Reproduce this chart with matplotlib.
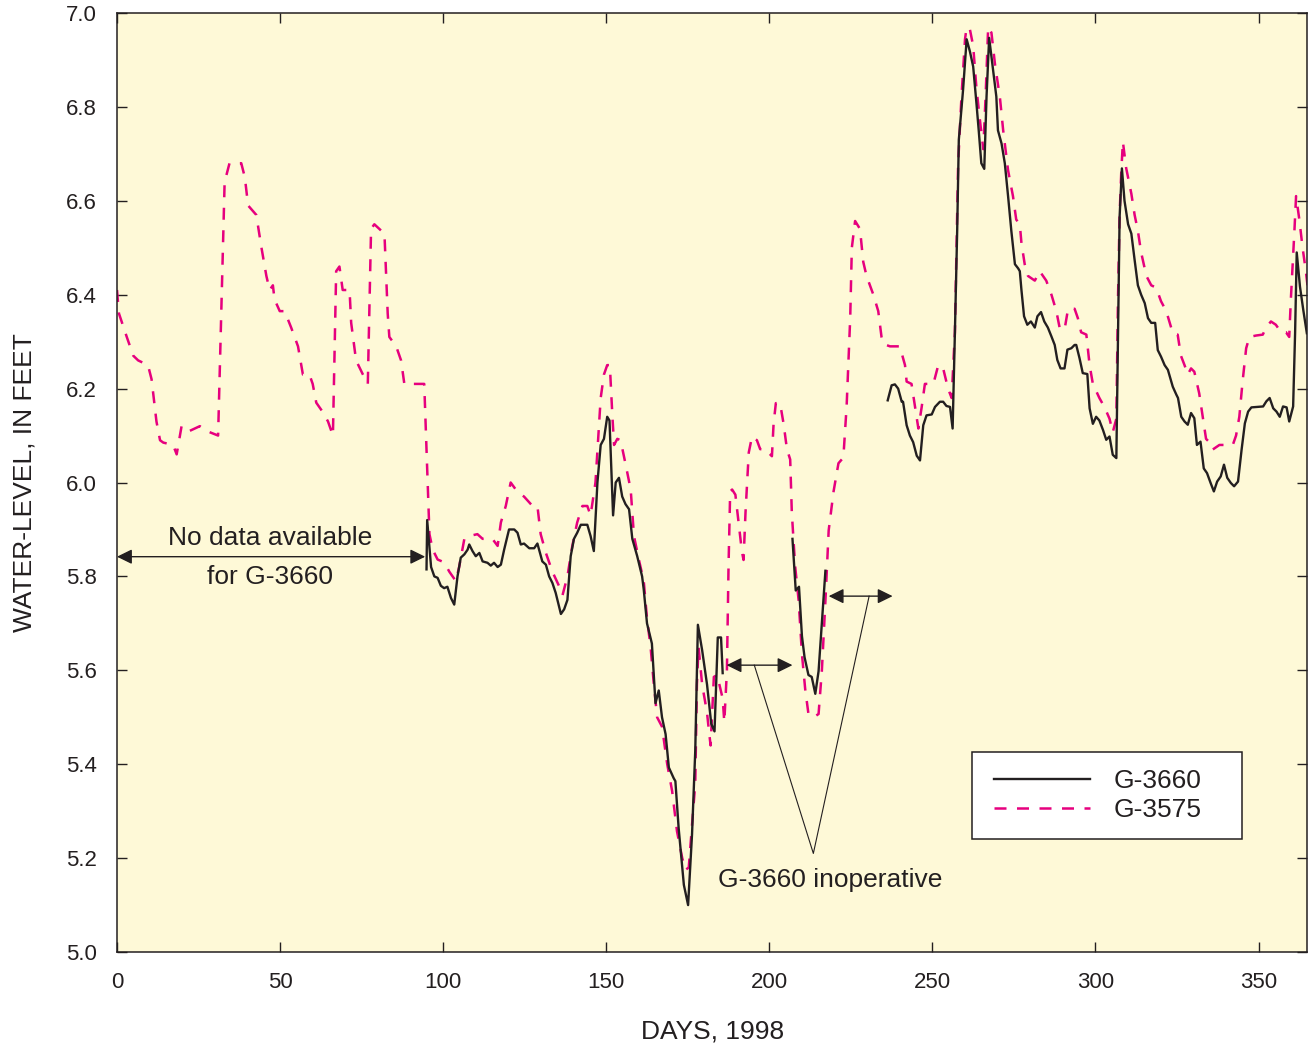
import numpy as np
import matplotlib
matplotlib.use('Agg')
from matplotlib import pyplot as plt
from matplotlib.patches import Rectangle

plt.rcParams['font.family'] = ['Liberation Sans', 'DejaVu Sans']

# G-3575 (dashed magenta)
days_3575 = [0, 0.6, 3, 5, 6.5, 9.5, 10.6, 12.1, 13.2, 14.2, 17.2, 18.3, 19.8, 20.8, 22.3,
             25.4, 27.4, 31, 33, 34.5, 38.1, 39.2, 40.2, 42.7, 44.3, 45.8, 46.8, 47.8, 48.3,
             49.9, 51.4, 53.4, 55.5, 57, 59, 60, 61.1, 63.1, 64.7, 66.2, 67.2, 68.2, 69.2,
             71.3, 71.8, 73.3, 75.4, 76.9, 77.9, 78.9, 82, 83, 83.5, 85.6, 87.1, 88.1, 94.2,
             94.7, 95.8, 96.8, 98.3, 100.3, 101.9, 103.9, 104.9, 106.5, 108, 110.5, 112.1,
             115.1, 116.7, 117.7, 119.2, 120.7, 122.8, 124.8, 127.4, 128.9, 129.9, 131.5,
             133.5, 135.5, 136.6, 138.1, 139.6, 141.1, 142.7, 144.2, 145.2, 146.7, 148.3,
             149.3, 150.3, 151.1, 151.9, 152.4, 153.4, 154.4, 155.9, 157.5, 158.5, 160,
             161.5, 162.5, 163.6, 164.6, 165.6, 167.1, 168.7, 170.2, 171.7, 173.3, 174.3,
             175.3, 176.3, 177.3, 177.8, 178.3, 179.4, 180.9, 181.5, 182, 183, 184, 185.7,
             186.2, 187, 187.5, 188, 188.6, 189.6, 190.6, 191.6, 192.1, 192.7, 193.7, 194.7,
             196.2, 197.2, 198.7, 200.8, 201.3, 202, 203.3, 204.4, 205.4, 206.4, 206.9,
             207.9, 209, 210, 211, 212, 213.6, 215.1, 216.1, 217.2, 218.2, 219.7, 221.2,
             222.7, 223.7, 224.8, 225.3, 226.3, 227.8, 228.8, 229.8, 231.9, 233.4, 234.4,
             235, 237, 240, 241.6, 242.1, 243.6, 244.7, 245.7, 246.7, 247.7, 250.3, 251.8,
             253.3, 254.8, 255.9, 256.9, 257.9, 258.9, 260, 260.5, 261.5, 262.5, 263.5,
             264.6, 265.6, 266.3, 267.1, 268.1, 269.2, 270.7, 271.7, 273.2, 274.7, 275.7,
             276.8, 277.3, 278.3, 279.3, 281.4, 282.9, 284.9, 286.5, 288, 289, 290.5, 291.6,
             293.6, 294.6, 295.6, 297.2, 298.2, 299.2, 301.2, 302.8, 304.3, 305.3, 306.4,
             306.9, 307.4, 307.9, 308.4, 309.4, 311, 312, 313, 314, 315.6, 317.1, 318.6,
             320.1, 321.7, 323.2, 324.2, 325.2, 326.2, 327.3, 328.3, 329.3, 330.3, 331.8,
             332.9, 333.9, 334.9, 335.9, 338, 339.5, 342.1, 343.1, 344.1, 345.1, 346.2,
             347.2, 349.2, 351.3, 352.3, 353.8, 355.3, 356.9, 358.4, 359.4, 359.9, 361,
             361.5, 362.5, 363.5, 364.5, 365]
level_3575 = [6.41, 6.36, 6.31, 6.27, 6.26, 6.25, 6.22, 6.13, 6.09, 6.085, 6.08, 6.06, 6.12,
              6.12, 6.11, 6.12, 6.11, 6.10, 6.64, 6.68, 6.68, 6.65, 6.59, 6.57, 6.50, 6.44,
              6.41, 6.42, 6.39, 6.365, 6.365, 6.33, 6.29, 6.23, 6.23, 6.21, 6.17, 6.15,
              6.13, 6.10, 6.45, 6.46, 6.41, 6.41, 6.34, 6.26, 6.23, 6.21, 6.54, 6.55, 6.53,
              6.36, 6.31, 6.29, 6.26, 6.21, 6.21, 6.11, 5.89, 5.857, 5.836, 5.83, 5.81,
              5.79, 5.82, 5.88, 5.886, 5.89, 5.88, 5.88, 5.865, 5.915, 5.95, 6.00, 5.98,
              5.97, 5.95, 5.95, 5.89, 5.85, 5.81, 5.78, 5.76, 5.80, 5.865, 5.915, 5.95,
              5.95, 5.93, 6.00, 6.18, 6.23, 6.25, 6.25, 6.14, 6.08, 6.093, 6.09, 6.04,
              5.985, 5.886, 5.836, 5.79, 5.71, 5.65, 5.57, 5.50, 5.48, 5.40, 5.343, 5.257,
              5.20, 5.175, 5.18, 5.27, 5.36, 5.57, 5.65, 5.57, 5.51, 5.47, 5.44, 5.586,
              5.59, 5.54, 5.49, 5.60, 5.823, 5.981, 5.985, 5.974, 5.913, 5.853, 5.835,
              5.936, 6.064, 6.098, 6.09, 6.071, 6.071, 6.056, 6.124, 6.169, 6.169, 6.124,
              6.071, 6.049, 5.936, 5.823, 5.748, 5.635, 5.56, 5.507, 5.50, 5.507, 5.598,
              5.748, 5.898, 5.981, 6.041, 6.053, 6.162, 6.35, 6.50, 6.557, 6.54, 6.47, 6.44,
              6.40, 6.365, 6.31, 6.295, 6.29, 6.29, 6.25, 6.215, 6.21, 6.16, 6.115, 6.16,
              6.21, 6.21, 6.25, 6.243, 6.20, 6.18, 6.32, 6.68, 6.82, 6.944, 6.97, 6.965,
              6.93, 6.84, 6.77, 6.71, 6.82, 6.97, 6.958, 6.89, 6.82, 6.75, 6.665, 6.61,
              6.56, 6.55, 6.51, 6.465, 6.44, 6.43, 6.45, 6.43, 6.40, 6.365, 6.33, 6.325,
              6.37, 6.37, 6.35, 6.32, 6.315, 6.25, 6.21, 6.18, 6.16, 6.136, 6.107, 6.136,
              6.39, 6.57, 6.66, 6.726, 6.67, 6.615, 6.57, 6.536, 6.49, 6.44, 6.42, 6.415,
              6.386, 6.365, 6.33, 6.315, 6.315, 6.27, 6.25, 6.23, 6.243, 6.236, 6.19, 6.14,
              6.093, 6.086, 6.07, 6.08, 6.08, 6.08, 6.10, 6.14, 6.215, 6.286, 6.31, 6.313,
              6.315, 6.33, 6.343, 6.336, 6.32, 6.32, 6.31, 6.39, 6.537, 6.61, 6.56, 6.50,
              6.45, 6.42]

# G-3660 (solid black), nan marks the periods with no record
days_3660 = [94.9, 95.1, 96.3, 97.3, 98.3, 99.3, 100.3, 101.3, 102.4, 103.4, 104.4, 105.4,
             106.5, 107.5, 108, 109, 110, 111.1, 112.1, 113.6, 114.6, 115.6, 116.7, 117.7,
             118.7, 120.2, 121.8, 122.8, 123.8, 124.8, 126.4, 127.9, 128.9, 130.4, 131.5,
             132.5, 133.5, 134.5, 136.1, 137.1, 138.1, 139.1, 140.1, 141.1, 142.2, 144.2,
             145.2, 146.2, 147.3, 148.3, 149.3, 150.3, 151, 152.1, 152.9, 153.9, 154.9,
             155.9, 157, 158, 159.5, 161, 161.5, 162.5, 164, 165.1, 166.1, 167.1, 168.2,
             169.2, 170.7, 171.2, 172.2, 173.8, 175.1, 176.3, 177.3, 178.1, 179.4, 180.9,
             182.2, 183.2, 184.2, 185.2, 185.7,
             196,
             207.1, 208.1, 209.1, 210, 210.8, 212, 213, 214.1, 215.1, 216.1, 217.2,
             226,
             236.3, 237.5, 238.5, 239.5, 240.6, 241, 242.1, 243.1, 244.1, 245.2, 246.2,
             247.2, 248.2, 249.8, 250.8, 252.3, 253.3, 254.3, 255.4, 256.2, 256.9, 257.6,
             258.1, 259.4, 260.5, 261.5, 262.5, 263.5, 264.2, 265, 265.9, 266.6, 267.4,
             268.6, 269.6, 270.1, 271.2, 272.2, 273.2, 274.2, 275.3, 276.3, 276.8, 277.3,
             278.1, 279.1, 280.2, 281.4, 282.2, 283.3, 284.3, 285.4, 286.5, 287.5, 288.3,
             289.3, 290.5, 291.4, 292.6, 293.6, 294.1, 295.1, 296.1, 297.5, 298.2, 299.2,
             300.2, 301.2, 302.3, 303.3, 304.3, 305.3, 306.4, 306.9, 307.4, 308.1, 308.9,
             310, 311, 312, 313, 314, 315.1, 316.1, 317.1, 318.3, 319.1, 320.1, 321.2,
             322.2, 323.7, 324.8, 325.3, 326.3, 327.3, 328.3, 329.3, 330.3, 331.1, 332.2,
             333.2, 334.2, 335.3, 336.3, 337.3, 338.4, 339.4, 340.4, 341.5, 342.5, 343.7,
             344.8, 345.8, 346.8, 347.8, 351.4, 352.4, 353.4, 354.5, 355.5, 356.5, 357.5,
             358.6, 359.4, 360.6, 361.2, 361.7, 362.7, 363.7, 364.8]
level_3660 = [5.815, 5.92, 5.82, 5.80, 5.797, 5.78, 5.775, 5.778, 5.754, 5.74, 5.80, 5.84,
              5.847, 5.857, 5.868, 5.854, 5.843, 5.85, 5.832, 5.829, 5.823, 5.829, 5.82,
              5.825, 5.857, 5.90, 5.90, 5.893, 5.868, 5.87, 5.86, 5.86, 5.87, 5.832, 5.825,
              5.80, 5.786, 5.765, 5.72, 5.73, 5.75, 5.843, 5.88, 5.893, 5.91, 5.91, 5.886,
              5.854, 6.00, 6.08, 6.093, 6.14, 6.132, 5.93, 6.00, 6.01, 5.97, 5.954, 5.943,
              5.88, 5.843, 5.80, 5.772, 5.70, 5.657, 5.53, 5.557, 5.50, 5.464, 5.393, 5.37,
              5.364, 5.264, 5.143, 5.10, 5.25, 5.43, 5.697, 5.643, 5.57, 5.486, 5.47, 5.67,
              5.67, 5.594,
              np.nan,
              5.88, 5.77, 5.778, 5.673, 5.628, 5.59, 5.586, 5.55, 5.598, 5.70, 5.812,
              np.nan,
              6.175, 6.207, 6.209, 6.20, 6.172, 6.172, 6.122, 6.10, 6.086, 6.057, 6.047,
              6.122, 6.143, 6.145, 6.161, 6.172, 6.172, 6.163, 6.161, 6.115, 6.32, 6.537,
              6.73, 6.836, 6.944, 6.918, 6.886, 6.808, 6.75, 6.68, 6.668, 6.822, 6.947,
              6.879, 6.822, 6.75, 6.722, 6.68, 6.61, 6.536, 6.465, 6.456, 6.45, 6.41, 6.354,
              6.336, 6.343, 6.33, 6.354, 6.363, 6.343, 6.33, 6.311, 6.293, 6.261, 6.243,
              6.243, 6.283, 6.286, 6.293, 6.293, 6.265, 6.233, 6.231, 6.158, 6.125, 6.14,
              6.132, 6.112, 6.091, 6.098, 6.059, 6.052, 6.318, 6.566, 6.669, 6.60, 6.55,
              6.53, 6.474, 6.42, 6.40, 6.382, 6.35, 6.34, 6.34, 6.282, 6.268, 6.25, 6.24,
              6.204, 6.187, 6.18, 6.14, 6.13, 6.123, 6.148, 6.137, 6.08, 6.087, 6.03, 6.02,
              5.999, 5.981, 6.002, 6.013, 6.038, 6.01, 5.999, 5.992, 6.002, 6.07, 6.126,
              6.151, 6.16, 6.162, 6.173, 6.18, 6.158, 6.151, 6.14, 6.162, 6.16, 6.13, 6.162,
              6.318, 6.49, 6.417, 6.368, 6.318]

x_ticks = [0, 50, 100, 150, 200, 250, 300, 350]
y_ticks = [5.0, 5.2, 5.4, 5.6, 5.8, 6.0, 6.2, 6.4, 6.6, 6.8, 7.0]

ink = '#231f20'
pink = '#e6007e'
fs = 19

fig = plt.figure(figsize=(13.13, 10.47), dpi=100)
ax = fig.add_axes([0.0891, 0.0907, 0.9067, 0.8969])
ax.set_facecolor('#fef9d7')

ax.plot(days_3660, level_3660, color=ink, lw=1.7, label='G-3660', zorder=3)
ax.plot(days_3575, level_3575, color=pink, lw=1.8, dashes=(4.8, 4.2), label='G-3575', zorder=2)

ax.set_xlim(0, 365)
ax.set_ylim(5.0, 7.0)
ax.set_xticks(x_ticks)
ax.set_yticks(y_ticks)
ax.set_yticklabels([f'{v:.1f}' for v in y_ticks])
ax.tick_params(direction='in', length=7.5, width=1, color=ink, labelcolor=ink,
               labelsize=16, pad=14.5, top=True, right=True)
for s in ax.spines.values():
    s.set_color(ink)
    s.set_linewidth(1.1)

ax.set_xlabel('DAYS, 1998', fontsize=fs, color=ink)
ax.set_ylabel('WATER-LEVEL, IN FEET', fontsize=fs, color=ink)
ax.xaxis.set_label_coords(0.5, -0.072)
ax.yaxis.set_label_coords(-0.068, 0.5)

# annotations
arw = dict(arrowstyle='<|-|>,head_length=0.65,head_width=0.32', color=ink, lw=1,
           shrinkA=0, shrinkB=0, mutation_scale=14)
ax.annotate('', xy=(0, 5.842), xytext=(94.5, 5.842), arrowprops=arw)
ax.text(47, 5.867, 'No data available', ha='center', va='baseline', fontsize=fs, color=ink)
ax.text(47, 5.784, 'for G-3660', ha='center', va='baseline', fontsize=fs, color=ink)

ax.annotate('', xy=(186.9, 5.611), xytext=(207.1, 5.611), arrowprops=arw)
ax.annotate('', xy=(218.2, 5.758), xytext=(237.8, 5.758), arrowprops=arw)
ax.plot([195.4, 213.5, 230.6], [5.611, 5.21, 5.758], color=ink, lw=0.8)
ax.text(218.6, 5.139, 'G-3660 inoperative', ha='center', va='baseline', fontsize=fs, color=ink)

# legend: white box drawn by hand, entries from the legend
box = Rectangle((0.718, 0.1203), 0.2268, 0.0927, transform=ax.transAxes,
                facecolor='white', edgecolor=ink, lw=1.1, zorder=5)
ax.add_patch(box)
leg = ax.legend(loc='upper left', bbox_to_anchor=(0.737, 0.1948), fontsize=fs,
                frameon=False, handlelength=3.64, handletextpad=0.87,
                borderpad=0, labelspacing=0.18, borderaxespad=0)
leg.set_zorder(6)
for t in leg.get_texts():
    t.set_color(ink)

fig.savefig('out.png', dpi=100)
